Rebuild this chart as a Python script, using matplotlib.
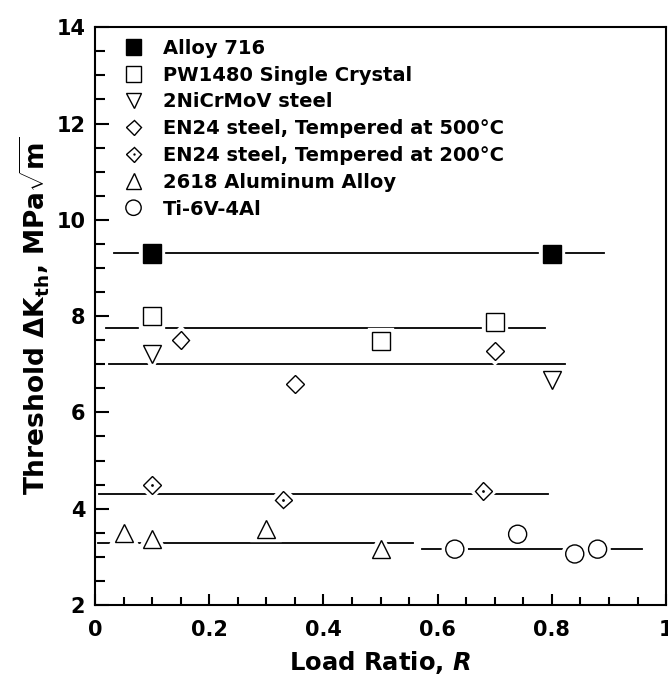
import matplotlib
matplotlib.use('Agg')
import matplotlib.pyplot as plt
import matplotlib.patheffects as pe
from matplotlib.ticker import MultipleLocator

plt.rcParams['font.family'] = ['DejaVu Sans']
plt.rcParams['font.weight'] = 'bold'
plt.rcParams['axes.labelweight'] = 'bold'
plt.rcParams['mathtext.fontset'] = 'custom'
plt.rcParams['mathtext.rm'] = 'DejaVu Sans:bold'
plt.rcParams['mathtext.it'] = 'DejaVu Sans:bold:italic'
plt.rcParams['mathtext.bf'] = 'DejaVu Sans:bold'

# threshold data (load ratio R, threshold dK in MPa sqrt(m))
alloy716_r = [0.10, 0.80]
alloy716_k = [9.30, 9.28]
pw1480_r = [0.10, 0.50, 0.70]
pw1480_k = [8.00, 7.48, 7.87]
nicrmov_r = [0.10, 0.80]
nicrmov_k = [7.21, 6.68]
en24_500_r = [0.15, 0.35, 0.70]
en24_500_k = [7.50, 6.59, 7.28]
en24_200_r = [0.10, 0.33, 0.68]
en24_200_k = [4.49, 4.19, 4.37]
al2618_r = [0.05, 0.10, 0.30, 0.50]
al2618_k = [3.49, 3.38, 3.57, 3.16]
ti64_r = [0.63, 0.74, 0.84, 0.88]
ti64_k = [3.16, 3.47, 3.06, 3.16]

# horizontal average lines
trend_k = [9.31, 7.75, 7.00, 4.30, 3.28, 3.16]
trend_r0 = [0.034, 0.019, 0.025, 0.007, 0.005, 0.573]
trend_r1 = [0.892, 0.788, 0.823, 0.793, 0.557, 0.958]

fig = plt.figure(figsize=(6.68, 6.75), dpi=100)
ax = fig.add_axes([0.1422, 0.1037, 0.855, 0.856])

for k, r0, r1 in zip(trend_k, trend_r0, trend_r1):
    ax.plot([r0, r1], [k, k], color='black', lw=1.3, zorder=2)

halo = [pe.Stroke(linewidth=6, foreground='white'), pe.Normal()]
mk = dict(linestyle='none', color='black', markeredgewidth=1.0, zorder=3, path_effects=halo)

h1, = ax.plot(alloy716_r, alloy716_k, marker='s', ms=13, mfc='black', **mk)
h2, = ax.plot(pw1480_r, pw1480_k, marker='s', ms=13, mfc='white', **mk)
h3, = ax.plot(nicrmov_r, nicrmov_k, marker='v', ms=13, mfc='white', **mk)
h4, = ax.plot(en24_500_r, en24_500_k, marker='D', ms=9, mfc='white', **mk)
h5a, = ax.plot(en24_200_r, en24_200_k, marker='D', ms=9, mfc='white', **mk)
h5b, = ax.plot(en24_200_r, en24_200_k, marker='o', ms=2, mfc='black', linestyle='none',
               color='black', markeredgewidth=0, zorder=4)
h6, = ax.plot(al2618_r, al2618_k, marker='^', ms=13, mfc='white', **mk)
h7, = ax.plot(ti64_r, ti64_k, marker='o', ms=13, mfc='white', **mk)

labels = ['Alloy 716', 'PW1480 Single Crystal', '2NiCrMoV steel',
          'EN24 steel, Tempered at 500°C', 'EN24 steel, Tempered at 200°C',
          '2618 Aluminum Alloy', 'Ti-6V-4Al']
leg = ax.legend([h1, h2, h3, h4, (h5a, h5b), h6, h7], labels, loc='upper left',
                bbox_to_anchor=(0.03, 1.0), frameon=False, fontsize=14,
                handlelength=1.0, handletextpad=1.0, labelspacing=0.4,
                markerscale=0.85, borderaxespad=0.2)

ax.set_xlim(0, 1)
ax.set_ylim(2, 14)
ax.xaxis.set_minor_locator(MultipleLocator(0.05))
ax.yaxis.set_major_locator(MultipleLocator(2))
ax.yaxis.set_minor_locator(MultipleLocator(0.5))
ax.set_xticks([0, 0.2, 0.4, 0.6, 0.8, 1])
ax.set_xticklabels(['0', '0.2', '0.4', '0.6', '0.8', '1'])
ax.tick_params(axis='both', which='both', direction='in', width=1.5, labelsize=15,
               top=False, right=False)
ax.tick_params(axis='y', which='major', length=10, pad=7)
ax.tick_params(axis='y', which='minor', length=7)
ax.tick_params(axis='x', which='major', length=8, pad=11)
ax.tick_params(axis='x', which='minor', length=6)
for s in ax.spines.values():
    s.set_linewidth(1.5)

ax.set_xlabel('Load Ratio, $\\mathit{R}$', fontsize=17.5, labelpad=6)
ax.set_ylabel('Threshold ΔK$_{\\mathrm{th}}$, MPa$\\sqrt{\\mathrm{m}}$', fontsize=19, labelpad=3)

fig.savefig('out.png', dpi=100)
